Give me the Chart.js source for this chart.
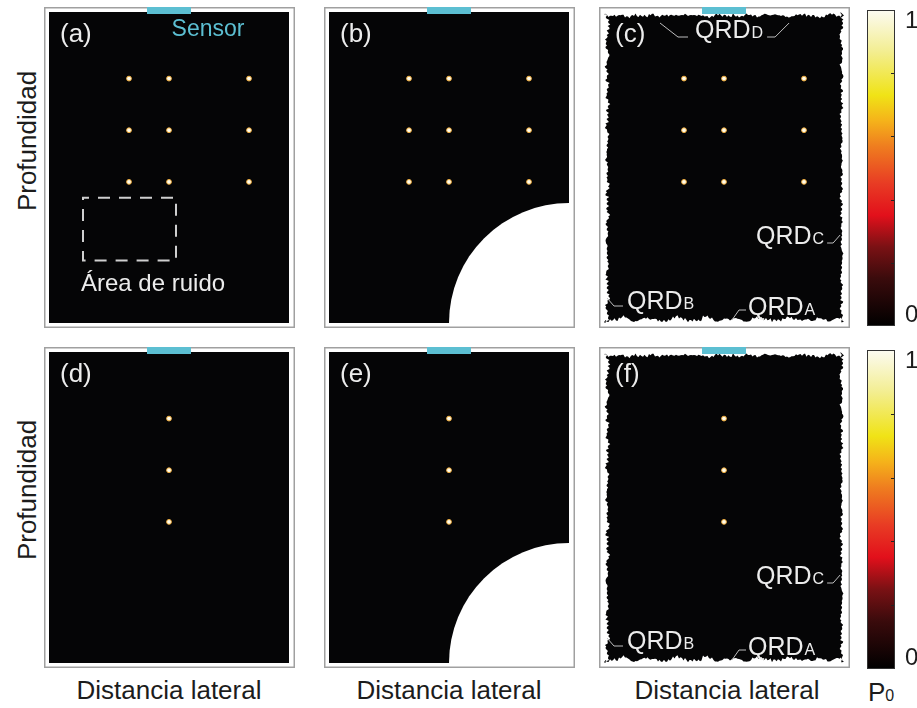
<!DOCTYPE html>
<html>
<head>
<meta charset="utf-8">
<script src="https://cdn.jsdelivr.net/npm/chart.js@4.4.1/dist/chart.umd.min.js"></script>
<style>
  html, body { margin: 0; padding: 0; background: #fff; width: 917px; height: 708px; overflow: hidden;
    font-family: "Liberation Sans", Arial, Helvetica, sans-serif; }
  canvas { position: absolute; }
  .axt { position: absolute; color: #1c1c1c; font-size: 26px; line-height: 1; white-space: nowrap;
    transform: translate(-50%, -50%); }
  .axt.rot { transform: translate(-50%, -50%) rotate(-90deg); }
  .sub { font-size: 16px; }
</style>
</head>
<body>
<div class="axt rot" style="left:27px; top:141px;">Profundidad</div>
<div class="axt rot" style="left:27px; top:490px;">Profundidad</div>
<div class="axt" style="left:169px; top:690px;">Distancia lateral</div>
<div class="axt" style="left:449px; top:690px;">Distancia lateral</div>
<div class="axt" style="left:727px; top:690px;">Distancia lateral</div>
<div class="axt" style="left:881px; top:692px;">P<span class="sub">0</span></div>

<script>
// ---- data (lateral distance and depth in mm, initial pressure P0 normalised) ----
const panelLetters   = ['(a)', '(b)', '(c)', '(d)', '(e)', '(f)'];
const lateralLimits  = [-12, 12];
const depthLimits    = [0, 31.3];
const sensorLateral  = [-2.2, 2.2];
const gridLateral    = [-4, 0, 8];      // point targets, panels a-c
const lineLateral    = [0];             // point targets, panels d-f
const targetDepth    = [6.7, 11.9, 17.1];
const targetP0       = [1, 1, 1];
const inclusionCentre = [12, 31.3];     // circular obstacle, panels b and e
const inclusionRadius = 12;
const noiseLateral   = [-8.6, 0.7];     // "Área de ruido" window
const noiseDepth     = [18.7, 25.0];
const colorbarTicks  = [0, 0.2, 0.4, 0.6, 0.8, 1];
const colorbarLabels = ['0', '1'];
const panelKinds     = ['plain', 'inclusion', 'ragged', 'plain', 'inclusion', 'ragged'];

// ---- layout ----
const FRAME_X = [44, 324, 599];
const FRAME_Y = [7, 347];
const FRAME_W = 251, FRAME_H = 321;
const PAD = { left: 5, right: 6, top: 4, bottom: 4 };
const BLACK = '#050506';
const FONT = '"Liberation Sans", Arial, Helvetica, sans-serif';
const LABEL_COL = '#ececec';

function targetsFor(lats) {
  const pts = [];
  lats.forEach(lx => targetDepth.forEach((d, i) => pts.push({ x: lx, y: d, p: targetP0[i] })));
  return pts;
}

// saw-tooth texture used for the truncated-reconstruction borders
function jag(t, k) {
  const a = 0.5 + 0.5 * Math.sin(t * 0.23 + k);
  const b = Math.abs(Math.sin(t * 1.9 + k * 3));
  const c = Math.abs(Math.sin(t * 0.71 + k * 2)) * (Math.sin(t * 2.7 + k) > 0 ? 1 : 0.3);
  const d = Math.abs(Math.sin(t * 4.3 + k)) > 0.8 ? 1.5 : 0;
  return 0.5 + 3.2 * a * b + 2.2 * c + d;
}

function drawRagged(ctx, a) {
  const step = 1.5;
  ctx.beginPath();
  for (let x = a.left; x <= a.right; x += step) ctx.lineTo(x, a.top + 0.5 + jag(x, 1));
  for (let y = a.top; y <= a.bottom; y += step) ctx.lineTo(a.right - jag(y, 2) * 0.8, y);
  for (let x = a.right; x >= a.left; x -= step) ctx.lineTo(x, a.bottom - jag(x, 3) * 1.2);
  for (let y = a.bottom; y >= a.top; y -= step) ctx.lineTo(a.left + jag(y, 4) * 1.1, y);
  ctx.closePath();
  ctx.fillStyle = BLACK;
  ctx.fill();
}

function qrdLabel(ctx, x, y, sub) {
  ctx.font = '25px ' + FONT;
  ctx.textBaseline = 'alphabetic';
  ctx.textAlign = 'left';
  ctx.fillStyle = LABEL_COL;
  ctx.fillText('QRD', x, y);
  const w = ctx.measureText('QRD').width;
  ctx.font = '16px ' + FONT;
  ctx.fillText(sub, x + w + 1, y);
  return x + w + 1 + ctx.measureText(sub).width;
}

function leader(ctx, pts) {
  ctx.beginPath();
  pts.forEach((p, i) => i ? ctx.lineTo(p[0], p[1]) : ctx.moveTo(p[0], p[1]));
  ctx.strokeStyle = '#bdbdbd';
  ctx.lineWidth = 1;
  ctx.stroke();
}

const panelArt = {
  id: 'panelArt',
  beforeDatasetsDraw(chart, args, opts) {
    const { ctx, chartArea: a, scales: { x, y } } = chart;
    const W = chart.width, H = chart.height;
    ctx.save();
    ctx.fillStyle = '#fff';
    ctx.fillRect(0, 0, W, H);
    ctx.strokeStyle = '#a0a0a0';
    ctx.lineWidth = 1.5;
    ctx.strokeRect(0.75, 0.75, W - 1.5, H - 1.5);

    if (opts.kind === 'ragged') {
      drawRagged(ctx, a);
    } else {
      ctx.fillStyle = BLACK;
      ctx.fillRect(a.left, a.top, a.width, a.height);
    }
    if (opts.kind === 'inclusion') {
      ctx.save();
      ctx.beginPath();
      ctx.rect(a.left, a.top, a.width, a.height);
      ctx.clip();
      const cx = x.getPixelForValue(inclusionCentre[0]);
      const cy = y.getPixelForValue(inclusionCentre[1]);
      const r = x.getPixelForValue(inclusionCentre[0] + inclusionRadius) - cx;
      ctx.beginPath();
      ctx.arc(cx, cy, r, 0, Math.PI * 2);
      ctx.fillStyle = '#fff';
      ctx.fill();
      ctx.restore();
    }
    // ultrasound sensor on top of the medium
    const sx0 = x.getPixelForValue(sensorLateral[0]);
    const sx1 = x.getPixelForValue(sensorLateral[1]);
    ctx.fillStyle = '#5cbfd2';
    ctx.fillRect(sx0, 0, sx1 - sx0, a.top + 2);
    ctx.restore();
  },
  afterDatasetsDraw(chart, args, opts) {
    const { ctx, chartArea: a, scales: { x, y } } = chart;
    const L = a.left, T = a.top;
    ctx.save();
    ctx.fillStyle = LABEL_COL;
    ctx.font = '26px ' + FONT;
    ctx.textBaseline = 'middle';
    ctx.textAlign = 'left';
    ctx.fillText(opts.letter, L + 11, T + 23);

    if (opts.index === 0) {
      ctx.fillStyle = '#5cbfd2';
      ctx.font = '23px ' + FONT;
      ctx.textAlign = 'center';
      ctx.fillText('Sensor', L + 159, T + 18);

      // noise window
      const bx0 = x.getPixelForValue(noiseLateral[0]), bx1 = x.getPixelForValue(noiseLateral[1]);
      const by0 = y.getPixelForValue(noiseDepth[0]),  by1 = y.getPixelForValue(noiseDepth[1]);
      ctx.strokeStyle = '#cfcfcf';
      ctx.lineWidth = 2;
      ctx.setLineDash([12, 9]);
      ctx.lineDashOffset = 6;
      ctx.strokeRect(bx0, by0, bx1 - bx0, by1 - by0);
      ctx.setLineDash([]);
      ctx.fillStyle = LABEL_COL;
      ctx.font = '24px ' + FONT;
      ctx.textAlign = 'left';
      ctx.textBaseline = 'alphabetic';
      ctx.fillText('Área de ruido', L + 32, T + 279);
    }

    if (opts.kind === 'ragged') {
      if (opts.row === 0) {
        const e = qrdLabel(ctx, L + 91, T + 26, 'D');
        leader(ctx, [[L + 56, T + 11], [L + 74, T + 25], [L + 84, T + 25]]);
        leader(ctx, [[e + 4, T + 25], [e + 12, T + 25], [e + 26, T + 11]]);
      }
      const ec = qrdLabel(ctx, L + 152, T + 232, 'C');
      leader(ctx, [[ec + 3, T + 231], [ec + 9, T + 231], [ec + 16, T + 223]]);
      qrdLabel(ctx, L + 23, T + 297, 'B');
      leader(ctx, [[L + 3, T + 286], [L + 10, T + 294], [L + 19, T + 294]]);
      qrdLabel(ctx, L + 144, T + 303, 'A');
      leader(ctx, [[L + 128, T + 308], [L + 135, T + 298], [L + 142, T + 298]]);
    }
    ctx.restore();
  }
};

function makePanel(i) {
  const col = i % 3, row = Math.floor(i / 3);
  const cv = document.createElement('canvas');
  cv.width = FRAME_W; cv.height = FRAME_H;
  cv.style.left = FRAME_X[col] + 'px';
  cv.style.top = FRAME_Y[row] + 'px';
  document.body.appendChild(cv);
  new Chart(cv, {
    type: 'scatter',
    data: {
      datasets: [{
        data: targetsFor(row === 0 ? gridLateral : lineLateral),
        pointRadius: 2.4,
        pointBackgroundColor: '#fffbe8',
        pointBorderColor: '#f2ae3c',
        pointBorderWidth: 1,
        clip: false
      }]
    },
    options: {
      responsive: false,
      animation: false,
      events: [],
      layout: { padding: PAD },
      scales: {
        x: { type: 'linear', display: false, min: lateralLimits[0], max: lateralLimits[1] },
        y: { type: 'linear', display: false, reverse: true, min: depthLimits[0], max: depthLimits[1] }
      },
      plugins: {
        legend: { display: false },
        tooltip: { enabled: false },
        panelArt: { kind: panelKinds[i], letter: panelLetters[i], index: i, row: row }
      }
    },
    plugins: [panelArt]
  });
}
for (let i = 0; i < 6; i++) makePanel(i);

// ---- P0 colour bars ----
const HEAT = [[0, '#000000'], [0.15, '#3a0b0c'], [0.25, '#7a1114'], [0.35, '#e2101b'],
  [0.45, '#e83b24'], [0.57, '#ef7e1f'], [0.65, '#f5b31a'], [0.73, '#f0e316'],
  [0.87, '#f3ee92'], [1, '#fcfbf2']];

const colorbarArt = {
  id: 'colorbarArt',
  afterDatasetsDraw(chart) {
    const { ctx, chartArea: a, scales: { y } } = chart;
    ctx.save();
    ctx.strokeStyle = '#222';
    ctx.lineWidth = 1;
    colorbarTicks.slice(1, -1).forEach(v => {
      const py = Math.round(y.getPixelForValue(v)) + 0.5;
      ctx.beginPath();
      ctx.moveTo(a.right - 4, py);
      ctx.lineTo(a.right, py);
      ctx.stroke();
    });
    ctx.strokeStyle = '#333';
    ctx.strokeRect(a.left + 0.5, a.top + 0.5, a.width - 1, a.height - 1);
    ctx.fillStyle = '#1c1c1c';
    ctx.font = '24px ' + FONT;
    ctx.textAlign = 'left';
    ctx.textBaseline = 'middle';
    ctx.fillText(colorbarLabels[1], a.right + 10, y.getPixelForValue(1) + 11);
    ctx.fillText(colorbarLabels[0], a.right + 10, y.getPixelForValue(0) - 11);
    ctx.restore();
  }
};

function makeColorbar(top, barH) {
  const cv = document.createElement('canvas');
  cv.width = 55; cv.height = barH + 8;
  cv.style.left = '862px';
  cv.style.top = (top - 4) + 'px';
  document.body.appendChild(cv);
  new Chart(cv, {
    type: 'bar',
    data: {
      labels: ['P0'],
      datasets: [{
        data: [[colorbarTicks[0], colorbarTicks[colorbarTicks.length - 1]]],
        backgroundColor: c => {
          const a = c.chart.chartArea;
          if (!a) return '#000';
          const g = c.chart.ctx.createLinearGradient(0, a.bottom, 0, a.top);
          HEAT.forEach(([s, col]) => g.addColorStop(s, col));
          return g;
        },
        borderWidth: 0,
        barPercentage: 1,
        categoryPercentage: 1
      }]
    },
    options: {
      responsive: false,
      animation: false,
      events: [],
      layout: { padding: { left: 5, right: 22, top: 4, bottom: 4 } },
      scales: {
        x: { display: false },
        y: { display: false, min: 0, max: 1 }
      },
      plugins: { legend: { display: false }, tooltip: { enabled: false } }
    },
    plugins: [colorbarArt]
  });
}
makeColorbar(10, 316);
makeColorbar(350, 319);
</script>
</body>
</html>
